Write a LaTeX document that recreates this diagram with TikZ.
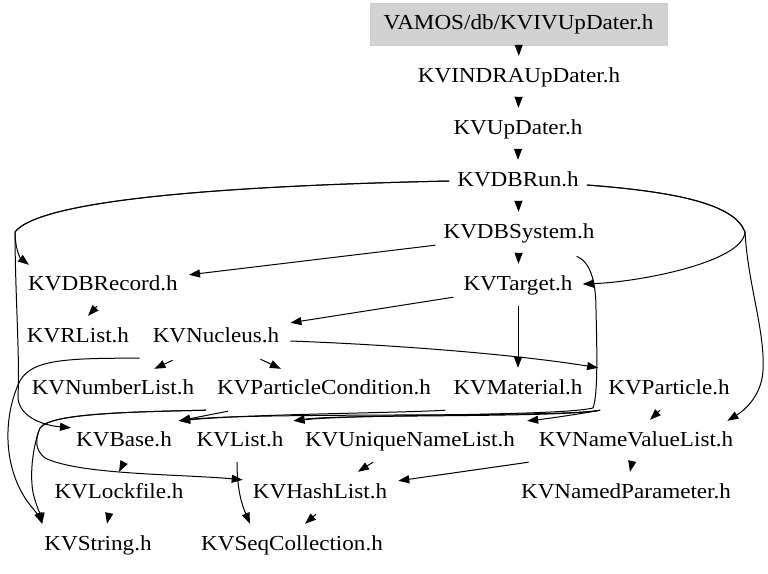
\documentclass[tikz,border=0pt]{standalone}
\usepackage{fontspec}
\setmainfont{Liberation Serif}[FakeStretch=1.08]
\usetikzlibrary{arrows.meta,calc}
\begin{document}
\begin{tikzpicture}[x=1pt,y=-1pt,
  nd/.style={font=\fontsize{21.4}{24}\selectfont, inner xsep=8pt, inner ysep=0pt,
             text height=15pt, text depth=5pt, minimum height=42pt},
  rootnd/.style={nd, fill=gray!35, draw=gray!40, minimum width=297pt},
  edge/.style={line width=1pt, -{Triangle[length=11pt,width=8pt]}}]
\useasboundingbox (0,0) rectangle (768,573);
% nodes
\node[rootnd] (root) at (518.5,24) {VAMOS/db/KVIVUpDater.h};
\node[nd] (indra) at (519,77) {KVINDRAUpDater.h};
\node[nd] (updater) at (518,129) {KVUpDater.h};
\node[nd] (dbrun) at (518,181) {KVDBRun.h};
\node[nd] (dbsys) at (519,233) {KVDBSystem.h};
\node[nd] (dbrec) at (103,285) {KVDBRecord.h};
\node[nd] (target) at (518,285) {KVTarget.h};
\node[nd] (rlist) at (78,337) {KVRList.h};
\node[nd] (nucleus) at (216,337) {KVNucleus.h};
\node[nd] (numlist) at (113,389) {KVNumberList.h};
\node[nd] (pcond) at (324,389) {KVParticleCondition.h};
\node[nd] (material) at (518,389) {KVMaterial.h};
\node[nd] (particle) at (669,389) {KVParticle.h};
\node[nd] (base) at (124,441) {KVBase.h};
\node[nd] (list) at (240,441) {KVList.h};
\node[nd] (unl) at (410,441) {KVUniqueNameList.h};
\node[nd] (nvl) at (636,441) {KVNameValueList.h};
\node[nd] (lock) at (119,493) {KVLockfile.h};
\node[nd] (hash) at (320,493) {KVHashList.h};
\node[nd] (npar) at (626,493) {KVNamedParameter.h};
\node[nd] (string) at (98,545) {KVString.h};
\node[nd] (seq) at (292,545) {KVSeqCollection.h};
% straight edges
\draw[edge] (root) -- (indra);
\draw[edge] (indra) -- (updater);
\draw[edge] (updater) -- (dbrun);
\draw[edge] (dbrun) -- (dbsys);
\draw[edge] (dbsys) -- (target);
\draw[edge] (target) -- (material);
% KVDBRun left
\draw[edge] (dbrun.west) .. controls (220,186) and (40,200) .. (15,232)
  .. controls (15,248) and (20,258) .. ($(dbrec.north west)+(9,1)$);
\draw[edge] (dbrun.west) .. controls (220,186) and (40,200) .. (15,232)
  .. controls (15,290) and (20,360) .. (18,395)
  .. controls (17,415) and (40,425) .. ($(base.north west)+(3,8)$);
% KVDBRun right
\draw[edge] ($(dbrun.east)+(0,4)$) .. controls (680,192) and (735,205) .. (745,232)
  .. controls (743,262) and (640,282) .. ($(target.east)+(2,-1)$);
\draw[edge] ($(dbrun.east)+(0,4)$) .. controls (680,192) and (735,205) .. (745,232)
  .. controls (748,285) and (765,330) .. (763,370)
  .. controls (762,395) and (745,410) .. ($(nvl.north east)+(-14,1)$);
% KVDBSystem
\draw[edge] ($(dbsys.south west)+(0,-9)$) -- ($(dbrec.north east)+(3,11)$);
\draw[edge] ($(dbsys.south east)+(-26,2)$) .. controls (590,262) and (596,280) .. (596,310)
  .. controls (597,350) and (598,395) .. (593,408)
  .. controls (560,416) and (360,414) .. ($(list.north east)+(2,1)$);
% KVTarget
\draw[edge] ($(target.south west)+(-2,-9)$) -- ($(nucleus.north east)+(3,7)$);
% KVDBRecord
\draw[edge] ($(dbrec.south)+(-6,0)$) -- ($(rlist.north)+(10,0)$);
% KVNucleus
\draw[edge] ($(nucleus.south west)+(-5,0)$) .. controls (60,358) and (28,360) .. (18,385)
  .. controls (3,420) and (3,470) .. (30,505)
  .. controls (36,512) and (40,518) .. ($(string.north west)+(6,0)$);
\draw[edge] ($(nucleus.south west)+(28,2)$) -- ($(numlist.north east)+(-48,1)$);
\draw[edge] ($(nucleus.south east)+(-27,1)$) -- ($(pcond.north west)+(72,1)$);
\draw[edge] ($(nucleus.east)+(3,4)$) .. controls (400,345) and (520,355) .. ($(particle.north west)+(-2,0)$);
% KVParticleCondition
\draw[edge] ($(pcond.south west)+(19,1)$) -- ($(base.north east)+(-1,1)$);
\draw[edge] ($(pcond.south west)+(-3,0)$) .. controls (120,412) and (50,414) .. (40,428)
  .. controls (33,445) and (28,480) .. (35,500)
  .. controls (38,510) and (41,516) .. ($(string.north west)+(6,0)$);
\draw[edge] ($(pcond.south west)+(-3,0)$) .. controls (120,412) and (50,414) .. (40,428)
  .. controls (35,440) and (35,450) .. (45,458)
  .. controls (80,475) and (180,474) .. ($(hash.north west)+(-2,8)$);
% KVMaterial
\draw[edge] (material.south west) .. controls (400,413) and (250,414) .. ($(base.north east)+(-1,1)$);
% KVParticle
\draw[edge] (particle.south west) .. controls (560,418) and (250,412) .. ($(base.north east)+(-1,1)$);
\draw[edge] (particle.south west) .. controls (560,418) and (340,414) .. ($(list.north east)+(2,1)$);
\draw[edge] (particle.south west) .. controls (580,414) and (545,419) .. ($(unl.north east)+(4,1)$);
\draw[edge] ($(particle.south)+(-9,0)$) -- ($(nvl.north)+(14,0)$);
% lower ranks
\draw[edge] (base.south) -- (lock.north);
\draw[edge] ($(lock.south)+(-10,0)$) -- ($(string.north)+(9,0)$);
\draw[edge] ($(list.south)+(-3,0)$) .. controls (237,490) and (242,505) .. ($(seq.north)+(-42,0)$);
\draw[edge] ($(hash.south)+(-4,0)$) -- ($(seq.north)+(13,0)$);
\draw[edge] ($(unl.south)+(-37,0)$) -- ($(hash.north)+(38,0)$);
\draw[edge] ($(nvl.south west)+(-2,0)$) -- ($(hash.north east)+(3,9)$);
\draw[edge] ($(nvl.south)+(-4,0)$) -- ($(npar.north)+(4,0)$);
\end{tikzpicture}
\end{document}
